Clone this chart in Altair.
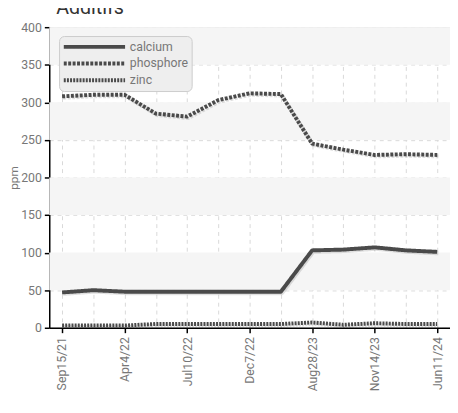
import json
import altair as alt
import pandas as pd

title_text = "Additifs"
dates = ["Sep15/21", "Dec20/21", "Apr4/22", "May22/22", "Jul10/22", "Sep30/22",
         "Dec7/22", "Mar15/23", "Aug28/23", "Oct5/23", "Nov14/23", "Feb20/24", "Jun11/24"]
labeled = ["Sep15/21", "Apr4/22", "Jul10/22", "Dec7/22", "Aug28/23", "Nov14/23", "Jun11/24"]
calcium = [47, 50, 48, 48, 48, 48, 48, 48, 103, 104, 107, 103, 101]
phosphore = [308, 310, 310, 285, 281, 303, 312, 311, 245, 237, 230, 231, 230]
zinc = [3, 3, 3, 5, 5, 5, 5, 5, 7, 4, 6, 5, 5]
series = ["calcium", "phosphore", "zinc"]
band_lo = [50, 150, 250, 350]
band_hi = [100, 200, 300, 400]
y_ticks = [0, 50, 100, 150, 200, 250, 300, 350, 400]

rows = []
for name, vals in zip(series, [calcium, phosphore, zinc]):
    for d, v in zip(dates, vals):
        rows.append({"date": d, "series": name, "ppm": v})
df = pd.DataFrame(rows)
bands = pd.DataFrame({"lo": band_lo, "hi": band_hi})
tdf = pd.DataFrame({"t": [title_text]})

W, H = 408, 306
FONT = "Roboto"
GRAY = "#777777"
LINE = "#4a4a4a"

lab_js = json.dumps(labeled)

x_enc = alt.X(
    "date:N", sort=dates,
    scale=alt.Scale(type="point", padding=0.41, domain=dates),
    axis=alt.Axis(
        title=None, labelAngle=270, labelAlign="right", labelBaseline="middle",
        labelPadding=4, labelFont=FONT, labelFontSize=12.5, labelColor=GRAY,
        labelExpr=f"indexof({lab_js}, datum.value) >= 0 ? datum.label : ''",
        tickOpacity={"condition": {"test": f"indexof({lab_js}, datum.value) >= 0", "value": 1}, "value": 0},
        tickColor="#000000", tickSize=5, tickWidth=1.5,
        domainColor="#000000", domainWidth=1.5,
        grid=True, gridColor="#d8d8d8", gridDash=[4, 4], gridWidth=1,
        labelOverlap=False,
    ),
)

y_axis = alt.Axis(
    title="ppm", titleFont=FONT, titleFontSize=12, titleColor=GRAY, titleFontWeight="normal",
    titlePadding=0,
    values=y_ticks, labelFont=FONT, labelFontSize=12.5, labelColor=GRAY, labelPadding=3,
    tickColor="#000000", tickSize=5, tickWidth=1.5,
    domainColor="#000000", domainWidth=1.5,
    grid=True, gridColor="#d8d8d8", gridDash=[4, 4], gridWidth=1,
)
y_scale = alt.Scale(domain=[0, 400], nice=False)

band_layer = alt.Chart(bands).mark_rect(color="#f5f5f5").encode(
    y=alt.Y("lo:Q", scale=y_scale, axis=y_axis),
    y2="hi:Q",
    x=alt.value(0), x2=alt.value(W),
)

leg = alt.Legend(
    title=None, orient="none", legendX=10, legendY=9,
    fillColor="#eeeeee", strokeColor="#cccccc", cornerRadius=5, padding=3,
    symbolType="M-5.2,0H5.2", symbolSize=144, symbolOffset=25, symbolOpacity=1,
    symbolStrokeColor=LINE,
    labelFont=FONT, labelFontSize=12.5, labelColor=GRAY, labelOffset=28, rowPadding=1,
)

dash_scale = alt.Scale(domain=series, range=[[1, 0], [3, 1.5], [2, 1.2]])
width_scale = alt.Scale(domain=series, range=[4, 4, 2.5])

shadow_layer = alt.Chart(df).mark_line(
    strokeCap="butt", strokeJoin="round", color="#000000", opacity=0.12, xOffset=1.2, yOffset=1.5
).encode(
    x=x_enc,
    y=alt.Y("ppm:Q", scale=y_scale, axis=y_axis),
    detail="series:N",
    strokeDash=alt.StrokeDash("series:N", scale=dash_scale, legend=leg),
    strokeWidth=alt.StrokeWidth("series:N", scale=width_scale, legend=leg),
)

line_layer = alt.Chart(df).mark_line(strokeCap="butt", strokeJoin="round").encode(
    x=x_enc,
    y=alt.Y("ppm:Q", scale=y_scale, axis=y_axis),
    color=alt.Color("series:N", scale=alt.Scale(domain=series, range=[LINE, LINE, LINE]), legend=leg),
    strokeDash=alt.StrokeDash("series:N", scale=dash_scale, legend=leg),
    strokeWidth=alt.StrokeWidth("series:N", scale=width_scale, legend=leg),
)

title_layer = alt.Chart(tdf).mark_text(
    align="left", baseline="alphabetic", font=FONT, fontSize=20, color="#333333"
).encode(text="t:N", x=alt.value(7), y=alt.value(-13.5))

chart = alt.layer(band_layer, shadow_layer, line_layer, title_layer).properties(
    width=W, height=H,
    autosize=alt.AutoSizeParams(type="none"),
    padding={"left": 42, "top": 16, "right": 0, "bottom": 70},
).configure_view(strokeWidth=0).configure(background="white")

chart.save("out.html", embed_options={"renderer": "svg", "actions": False})
